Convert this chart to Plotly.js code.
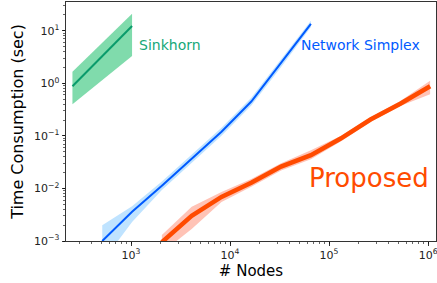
<!DOCTYPE html>
<html>
<head>
<meta charset="utf-8">
<script src="https://cdn.plot.ly/plotly-3.0.1.min.js"></script>
<style>html,body{margin:0;padding:0;background:#fff;}#chart{width:437px;height:283px;}</style>
</head>
<body>
<div id="chart"></div>
<script>
// Data
const sinkNodes = [256, 512, 1024];
const sinkMean  = [0.88, 3.3, 12.3];
const sinkLow   = [0.40, 1.15, 3.3];
const sinkHigh  = [1.66, 5.9, 21];

const nsNodes = [512, 1024, 2048, 4096, 8192, 16384, 32768, 65536];
const nsMean  = [0.0010, 0.0036, 0.0112, 0.037, 0.12, 0.45, 2.4, 13.5];
const nsLow   = [0.0004, 0.0023, 0.0093, 0.031, 0.101, 0.38, 2.05, 11.8];
const nsHigh  = [0.0020, 0.0046, 0.0135, 0.044, 0.142, 0.53, 2.85, 15.5];

const propNodes = [2048, 4096, 8192, 16384, 32768, 65536, 131072, 262144, 524288, 1048576];
const propMean  = [0.00095, 0.0030, 0.0069, 0.0128, 0.026, 0.043, 0.089, 0.205, 0.41, 0.88];
const propLow   = [0.0006, 0.0017, 0.0055, 0.0108, 0.022, 0.036, 0.078, 0.185, 0.37, 0.62];
const propHigh  = [0.0013, 0.0045, 0.0086, 0.0152, 0.030, 0.053, 0.100, 0.225, 0.46, 1.12];

const labels = ['Sinkhorn', 'Network Simplex', 'Proposed'];

const xTickVals = [1e3, 1e4, 1e5, 1e6];
const xTickText = ['10<sup>3</sup>', '10<sup>4</sup>', '10<sup>5</sup>', '10<sup>6</sup>'];
const yTickVals = [1e-3, 1e-2, 1e-1, 1, 10];
const yTickText = ['10<sup>\u22123</sup>', '10<sup>\u22122</sup>', '10<sup>\u22121</sup>', '10<sup>0</sup>', '10<sup>1</sup>'];

const cSink = '#0a9b6b', cSinkBand = '#80dbac', cSinkText = '#16a878';
const cNS = '#005aff', cNSBand = '#bfe3ff';
const cProp = '#ff4b00', cPropBand = '#ffc3b6';

function band(x, lo, hi, color) {
  return [
    {x: x, y: lo, mode: 'lines', line: {width: 0, color: color}, hoverinfo: 'skip', showlegend: false},
    {x: x, y: hi, mode: 'lines', line: {width: 0, color: color}, fill: 'tonexty', fillcolor: color, hoverinfo: 'skip', showlegend: false}
  ];
}

const traces = [].concat(
  band(sinkNodes, sinkLow, sinkHigh, cSinkBand),
  band(nsNodes, nsLow, nsHigh, cNSBand),
  band(propNodes, propLow, propHigh, cPropBand),
  [
    {x: sinkNodes, y: sinkMean, mode: 'lines', name: labels[0], line: {color: cSink, width: 2}, showlegend: false},
    {x: nsNodes, y: nsMean, mode: 'lines', name: labels[1], line: {color: cNS, width: 2}, showlegend: false},
    {x: propNodes, y: propMean, mode: 'lines', name: labels[2], line: {color: cProp, width: 4.5}, showlegend: false}
  ]
);

const font = 'DejaVu Sans, sans-serif';
const layout = {
  width: 437, height: 283,
  margin: {l: 66, r: 1, t: 2, b: 42},
  paper_bgcolor: '#fff', plot_bgcolor: '#fff',
  font: {family: font, color: '#000', size: 11},
  showlegend: false,
  xaxis: {
    type: 'log', range: [2.343, 6.08],
    tickmode: 'array', tickvals: xTickVals, ticktext: xTickText,
    ticklabeloverflow: 'allow',
    ticks: 'outside', ticklen: 3.5, tickwidth: 0.8, tickcolor: '#000',
    minor: {ticks: 'outside', ticklen: 2, tickwidth: 0.6, tickcolor: '#000', dtick: 'D1', showgrid: false},
    showgrid: false, zeroline: false,
    showline: true, linecolor: '#333', linewidth: 1, mirror: true,
    tickfont: {family: font, size: 11, color: '#222'},
    title: {text: '# Nodes', font: {family: font, size: 15, color: '#000'}, standoff: 4}
  },
  yaxis: {
    type: 'log', range: [-3, 1.547],
    tickmode: 'array', tickvals: yTickVals, ticktext: yTickText,
    ticklabeloverflow: 'allow',
    ticks: 'outside', ticklen: 3.5, tickwidth: 0.8, tickcolor: '#000',
    minor: {ticks: 'outside', ticklen: 2, tickwidth: 0.6, tickcolor: '#000', dtick: 'D1', showgrid: false},
    showgrid: false, zeroline: false,
    showline: true, linecolor: '#333', linewidth: 1, mirror: true,
    tickfont: {family: font, size: 11, color: '#222'},
    title: {text: 'Time Consumption (sec)', font: {family: font, size: 16, color: '#000'}, standoff: 6}
  },
  annotations: [
    {text: labels[0], xref: 'paper', yref: 'paper', x: 0.192, y: 0.818, xanchor: 'left', yanchor: 'middle', showarrow: false, font: {family: font, size: 14, color: cSinkText}},
    {text: labels[1], xref: 'paper', yref: 'paper', x: 0.631, y: 0.818, xanchor: 'left', yanchor: 'middle', showarrow: false, font: {family: font, size: 14, color: cNS}},
    {text: labels[2], xref: 'paper', yref: 'paper', x: 0.651, y: 0.262, xanchor: 'left', yanchor: 'middle', showarrow: false, font: {family: font, size: 26, color: cProp}}
  ]
};

Plotly.newPlot('chart', traces, layout, {displayModeBar: false, staticPlot: true});
</script>
</body>
</html>
